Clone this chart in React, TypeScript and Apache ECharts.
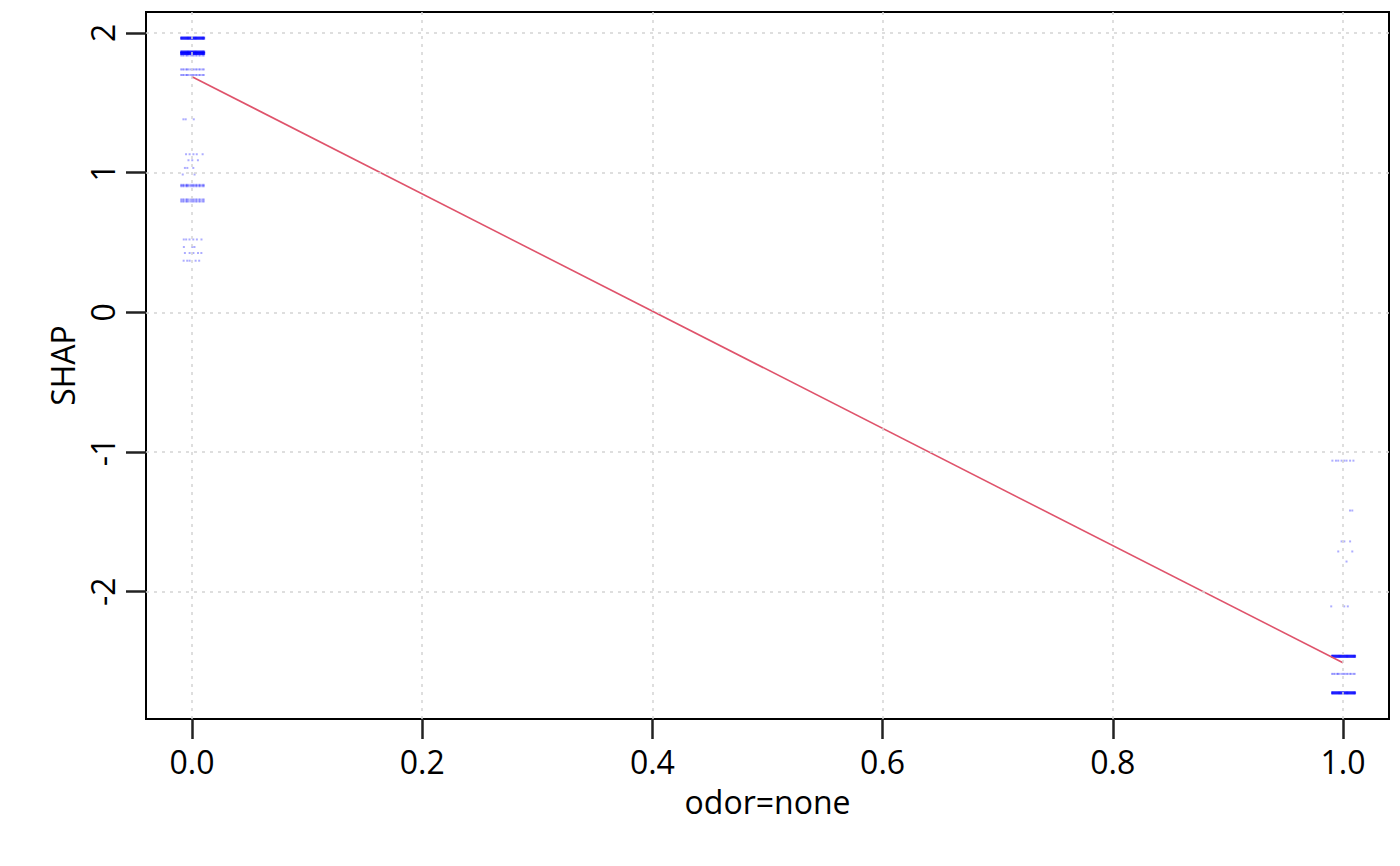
import React, { useEffect, useRef } from "react";
import * as echarts from "echarts";

// ---- axes ----
const xTicks = [0, 0.2, 0.4, 0.6, 0.8, 1.0];
const yTicks = [-2, -1, 0, 1, 2];
const xRange = [-0.04, 1.04];
const yRange = [-2.911, 2.149];

// ---- trend line ----
const trendX = [0, 1];
const trendY = [1.686, -2.509];

// ---- jitter offsets (hand read) ----
const denseOffsets = [
  -0.0095, -0.0085, -0.0075, -0.0065, -0.0055, -0.0045, -0.0035, -0.0025, -0.0015, -0.0005,
  0.0005, 0.0015, 0.0025, 0.0035, 0.0045, 0.0055, 0.0065, 0.0075, 0.0085, 0.0095, 0.0105,
];
const mediumOffsets = [
  -0.0095, -0.0082, -0.0071, -0.0052, -0.0043, -0.0031, -0.0012, 0.0003, 0.0014, 0.0031,
  0.0042, 0.0061, 0.0072, 0.0091, 0.0102,
];

// ---- left cluster (odor=none = 0) ----
const leftDenseY = [1.962, 1.862, 1.852];
const leftMediumY = [1.838, 1.738, 1.698, 0.912, 0.902, 0.807, 0.793];
const leftSparseY = [1.381, 1.131, 1.088, 1.033, 0.986, 0.521, 0.467, 0.424, 0.369];
const leftSparseX = [
  [-0.0075, -0.0055, 0.0015],
  [-0.0052, -0.0021, 0.0012, 0.0041, 0.0092],
  [-0.0031, 0.0002, 0.0051],
  [-0.0062, -0.0041, 0.0011],
  [-0.0081, 0.0022],
  [-0.0072, -0.0051, -0.0022, 0.0011, 0.0042, 0.0082],
  [-0.0071, 0.0002, 0.0021],
  [-0.0062, -0.0021, 0.0012, 0.0052, 0.0081],
  [-0.0073, -0.0042, -0.0021, 0.0031, 0.0062],
];

// ---- right cluster (odor=none = 1) ----
const rightDenseY = [-2.462, -2.724];
const rightMediumY = [-2.588];
const rightSparseY = [-1.062, -1.419, -1.64, -1.712, -1.784, -2.105];
const rightSparseX = [
  [-0.0092, -0.0061, -0.0041, -0.0012, 0.0011, 0.0031, 0.0062, 0.0091],
  [0.0061, 0.0081],
  [-0.0012, 0.0012, 0.0062],
  [-0.0041, 0.0081],
  [0.0031],
  [-0.0102, 0.0011, 0.0042],
];

function rowPoints(center: number, ys: number[], offsets: number[]) {
  const out: number[][] = [];
  ys.forEach((y) => offsets.forEach((o) => out.push([center + o, y])));
  return out;
}
function sparsePoints(center: number, ys: number[], xs: number[][]) {
  const out: number[][] = [];
  ys.forEach((y, i) => xs[i].forEach((o) => out.push([center + o, y])));
  return out;
}

const densePts = [...rowPoints(0, leftDenseY, denseOffsets), ...rowPoints(1, rightDenseY, denseOffsets)];
const lightPts = [
  ...rowPoints(0, leftMediumY, mediumOffsets),
  ...rowPoints(1, rightMediumY, mediumOffsets),
  ...sparsePoints(0, leftSparseY, leftSparseX),
  ...sparsePoints(1, rightSparseY, rightSparseX),
];

const FONT = "Open Sans";
const gridLine = { color: "#D3D3D3", width: 1.5, type: [3, 5] as number[] };
const TICK_COLOR = "#222222";

export default function App() {
  const ref = useRef<HTMLDivElement>(null);
  useEffect(() => {
    if (!ref.current) return;
    const chart = echarts.init(ref.current, null, { renderer: "svg" });
    chart.setOption({
      animation: false,
      backgroundColor: "#ffffff",
      textStyle: { fontFamily: FONT },
      grid: {
        left: 146,
        right: 11,
        top: 12,
        bottom: 147,
        show: true,
        borderColor: "#000",
        borderWidth: 2,
        backgroundColor: "transparent",
        containLabel: false,
      },
      xAxis: {
        type: "value",
        min: xRange[0],
        max: xRange[1],
        position: "bottom",
        name: "odor=none",
        nameLocation: "middle",
        nameGap: 66,
        nameTextStyle: { fontSize: 32, color: "#000", fontFamily: FONT },
        axisLine: { show: true, onZero: false, lineStyle: { color: "#000", width: 2 } },
        axisTick: {
          show: true,
          length: 20,
          lineStyle: { color: TICK_COLOR, width: 2.5 },
          customValues: xTicks,
        },
        axisLabel: {
          fontSize: 32,
          color: "#000",
          fontFamily: FONT,
          margin: 26,
          customValues: xTicks,
          formatter: (v: number) => v.toFixed(1),
        },
        splitLine: { show: false },
      },
      yAxis: {
        type: "value",
        min: yRange[0],
        max: yRange[1],
        position: "left",
        name: "SHAP",
        nameLocation: "middle",
        nameRotate: 90,
        nameGap: 68,
        nameTextStyle: { fontSize: 32, color: "#000", fontFamily: FONT },
        axisLine: { show: true, onZero: false, lineStyle: { color: "#000", width: 2 } },
        axisTick: {
          show: true,
          length: 20,
          lineStyle: { color: TICK_COLOR, width: 2.5 },
          customValues: yTicks,
        },
        axisLabel: {
          fontSize: 32,
          color: "#000",
          fontFamily: FONT,
          rotate: 90,
          margin: 28,
          customValues: yTicks,
          formatter: (v: number) => String(Math.round(v)),
        },
        splitLine: { show: false },
      },
      series: [
        {
          type: "scatter",
          name: "grid",
          data: [],
          z: 1,
          silent: true,
          markLine: {
            silent: true,
            symbol: ["none", "none"],
            label: { show: false },
            lineStyle: gridLine,
            emphasis: { disabled: true },
            animation: false,
            data: [
              ...xTicks.map((v) => ({ xAxis: v })),
              ...yTicks.map((v) => ({ yAxis: v })),
            ],
          },
        },
        {
          type: "scatter",
          name: "light",
          data: lightPts,
          symbol: "rect",
          symbolSize: [2, 2],
          itemStyle: { color: "rgba(0,0,255,0.4)" },
          z: 3,
          silent: true,
        },
        {
          type: "scatter",
          name: "dense",
          data: densePts,
          symbol: "rect",
          symbolSize: [2, 3],
          itemStyle: { color: "rgba(0,0,255,0.95)" },
          z: 3,
          silent: true,
        },
        {
          type: "line",
          name: "trend",
          data: trendX.map((x, i) => [x, trendY[i]]),
          showSymbol: false,
          symbol: "none",
          lineStyle: { color: "#DF536B", width: 1.6 },
          z: 4,
          silent: true,
        },
      ],
    });
    return () => chart.dispose();
  }, []);
  return (
    <div
      ref={ref}
      style={{ position: "fixed", left: 0, top: 0, width: 1400, height: 866 }}
    />
  );
}
